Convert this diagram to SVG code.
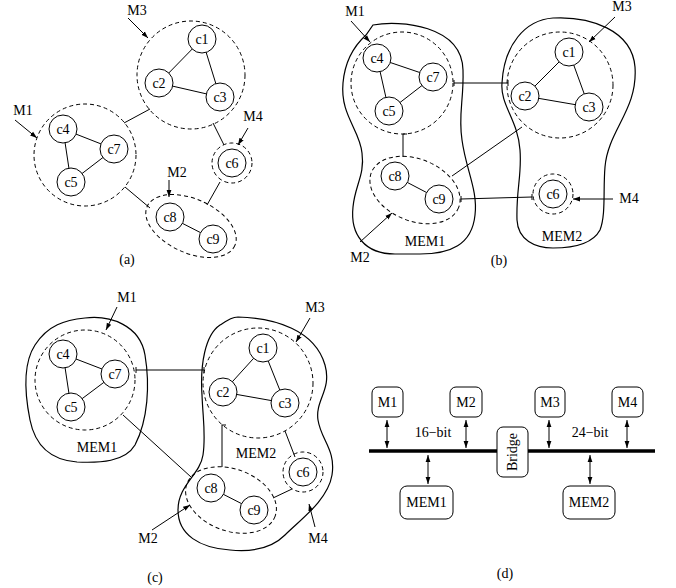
<svg xmlns="http://www.w3.org/2000/svg" width="676" height="588" viewBox="0 0 676 588">
<style>
text{font-family:"Liberation Serif","Times New Roman",serif;font-size:14px;fill:#000;text-anchor:middle}
.n{fill:#fff;stroke:#000;stroke-width:1}
.d{fill:none;stroke:#000;stroke-width:1;stroke-dasharray:4,3}
.e{stroke:#000;stroke-width:1;fill:none}
.a{stroke:#000;stroke-width:1;fill:none;marker-end:url(#ah)}
.b{stroke:#000;stroke-width:1;fill:none;marker-end:url(#ah);marker-start:url(#ah)}
.m{fill:none;stroke:#000;stroke-width:1.2}
.box{fill:#fff;stroke:#000;stroke-width:1}
</style>
<defs>
<marker id="ah" viewBox="0 0 10 10" refX="10" refY="5" markerWidth="7" markerHeight="6" orient="auto-start-reverse" markerUnits="userSpaceOnUse" preserveAspectRatio="none"><path d="M0,1 L10,5 L0,9 Z" fill="#000"/></marker>
</defs>
<rect width="676" height="588" fill="#fff"/>

<!-- Panel (a) -->
<g id="a-connectors">
<line class="e" x1="124" y1="123" x2="150" y2="109"/>
<line class="e" x1="213" y1="123" x2="224" y2="145"/>
<line class="e" x1="125" y1="187" x2="150" y2="208"/>
<line class="e" x1="220" y1="182" x2="207" y2="205"/>
<line class="e" x1="202" y1="39" x2="159" y2="83"/>
<line class="e" x1="202" y1="39" x2="220" y2="97"/>
<line class="e" x1="159" y1="83" x2="220" y2="97"/>
<line class="e" x1="63" y1="129" x2="114" y2="149"/>
<line class="e" x1="63" y1="129" x2="71" y2="182"/>
<line class="e" x1="71" y1="182" x2="114" y2="149"/>
<line class="e" x1="170" y1="217" x2="213" y2="239"/>
<line class="a" x1="128" y1="18" x2="148" y2="38"/>
<line class="a" x1="15" y1="120" x2="37" y2="138"/>
<line class="a" x1="248" y1="128" x2="238" y2="145"/>
<line class="a" x1="169" y1="180" x2="169" y2="197"/>
</g>
<g id="a-M3"><circle class="d" cx="191" cy="75" r="54"/><text x="137" y="15">M3</text></g>
<g id="a-M1"><circle class="d" cx="85" cy="155" r="51"/><text x="23" y="115">M1</text></g>
<g id="a-M4"><circle class="d" cx="232" cy="163" r="20"/><text x="253" y="121">M4</text></g>
<g id="a-M2"><ellipse class="d" cx="191" cy="226" rx="48" ry="27" transform="rotate(24 191 226)"/><text x="177" y="177">M2</text></g>
<g id="a-c1"><circle class="n" cx="202" cy="39" r="14"/><text x="202" y="44">c1</text></g>
<g id="a-c2"><circle class="n" cx="159" cy="83" r="14"/><text x="159" y="88">c2</text></g>
<g id="a-c3"><circle class="n" cx="220" cy="97" r="14"/><text x="220" y="102">c3</text></g>
<g id="a-c4"><circle class="n" cx="63" cy="129" r="14"/><text x="63" y="134">c4</text></g>
<g id="a-c7"><circle class="n" cx="114" cy="149" r="14"/><text x="114" y="154">c7</text></g>
<g id="a-c5"><circle class="n" cx="71" cy="182" r="14"/><text x="71" y="187">c5</text></g>
<g id="a-c6"><circle class="n" cx="232" cy="163" r="14"/><text x="232" y="168">c6</text></g>
<g id="a-c8"><circle class="n" cx="170" cy="217" r="14"/><text x="170" y="222">c8</text></g>
<g id="a-c9"><circle class="n" cx="213" cy="239" r="14"/><text x="213" y="244">c9</text></g>
<text x="127" y="264">(a)</text>

<!-- Panel (b) -->
<g id="b-MEM1"><path class="m" d="M373,25 C400,20 462,25 463,70 C464,100 458,115 462,140 C466,170 478,190 475,215 C472,245 450,254 420,254 L395,254 C365,254 350,235 353,207 C355,185 365,175 362,153 C360,130 340,115 343,83 C345,60 355,45 366,35 Z"/><text x="425" y="246">MEM1</text></g>
<g id="b-MEM2"><path class="m" d="M553,18 C590,16 632,30 635,67 C638,110 608,130 605,167 C603,190 606,215 600,230 C592,245 570,248 553,248 C535,248 518,240 517,220 C516,190 522,175 520,150 C518,120 500,105 502,83 C504,45 525,20 553,18 Z"/><text x="562" y="241">MEM2</text></g>
<g id="b-connectors">
<line class="e" x1="454" y1="83" x2="508" y2="83"/>
<line class="e" x1="454" y1="80" x2="454" y2="86"/>
<line class="e" x1="508" y1="80" x2="508" y2="86"/>
<line class="e" x1="403" y1="134" x2="403" y2="157"/>
<line class="e" x1="403" y1="134" x2="407" y2="134"/>
<line class="e" x1="452" y1="176" x2="522" y2="127"/>
<line class="e" x1="461" y1="199" x2="532" y2="197"/>
<line class="e" x1="461" y1="196" x2="461" y2="202"/>
<line class="e" x1="532" y1="194" x2="532" y2="200"/>
<line class="e" x1="569" y1="52" x2="525" y2="96"/>
<line class="e" x1="569" y1="52" x2="589" y2="107"/>
<line class="e" x1="525" y1="96" x2="589" y2="107"/>
<line class="e" x1="377" y1="58" x2="433" y2="77"/>
<line class="e" x1="377" y1="58" x2="389" y2="111"/>
<line class="e" x1="389" y1="111" x2="433" y2="77"/>
<line class="e" x1="395" y1="176" x2="439" y2="199"/>
<line class="a" x1="351" y1="21" x2="370" y2="42"/>
<line class="a" x1="615" y1="17" x2="589" y2="42"/>
<line class="a" x1="360" y1="242" x2="392" y2="213"/>
<line class="a" x1="613" y1="199" x2="573" y2="199"/>
</g>
<g id="b-M1"><circle class="d" cx="402" cy="83" r="51"/><text x="355" y="16">M1</text></g>
<g id="b-M3"><circle class="d" cx="560" cy="85" r="53"/><text x="622" y="11">M3</text></g>
<g id="b-M2"><ellipse class="d" cx="415" cy="190" rx="47" ry="31" transform="rotate(22 415 190)"/><text x="360" y="262">M2</text></g>
<g id="b-M4"><circle class="d" cx="553" cy="194" r="20"/><text x="629" y="203">M4</text></g>
<g id="b-c1"><circle class="n" cx="569" cy="52" r="14"/><text x="569" y="57">c1</text></g>
<g id="b-c2"><circle class="n" cx="525" cy="96" r="14"/><text x="525" y="101">c2</text></g>
<g id="b-c3"><circle class="n" cx="589" cy="107" r="14"/><text x="589" y="112">c3</text></g>
<g id="b-c4"><circle class="n" cx="377" cy="58" r="14"/><text x="377" y="63">c4</text></g>
<g id="b-c7"><circle class="n" cx="433" cy="77" r="14"/><text x="433" y="82">c7</text></g>
<g id="b-c5"><circle class="n" cx="389" cy="111" r="14"/><text x="389" y="116">c5</text></g>
<g id="b-c6"><circle class="n" cx="553" cy="194" r="14"/><text x="553" y="199">c6</text></g>
<g id="b-c8"><circle class="n" cx="395" cy="176" r="14"/><text x="395" y="181">c8</text></g>
<g id="b-c9"><circle class="n" cx="439" cy="199" r="14"/><text x="439" y="204">c9</text></g>
<text x="499" y="265">(b)</text>

<!-- Panel (c) -->
<g id="c-MEM1"><path class="m" d="M85,318 C110,315 140,325 145,355 C150,385 148,420 135,445 C125,462 100,463 77,462 C50,460 35,445 30,420 C25,395 22,365 35,345 C48,325 65,320 85,318 Z"/><text x="97" y="452">MEM1</text></g>
<g id="c-MEM2"><path class="m" d="M238,317 C275,318 315,330 325,365 C332,390 315,400 318,420 C321,440 336,450 332,475 C328,500 300,520 285,535 C270,550 250,552 230,550 C200,548 178,535 178,510 C178,485 200,475 203,455 C206,435 203,420 202,395 C200,365 205,335 220,325 C228,320 232,317 238,317 Z"/><text x="256" y="458">MEM2</text></g>
<g id="c-connectors">
<line class="e" x1="136" y1="370" x2="204" y2="370"/>
<line class="e" x1="136" y1="367" x2="136" y2="373"/>
<line class="e" x1="204" y1="367" x2="204" y2="373"/>
<line class="e" x1="123" y1="415" x2="191" y2="477"/>
<line class="e" x1="222" y1="425" x2="222" y2="467"/>
<line class="e" x1="222" y1="425" x2="226" y2="425"/>
<line class="e" x1="285" y1="431" x2="295" y2="457"/>
<line class="e" x1="273" y1="498" x2="292" y2="489"/>
<line class="e" x1="263" y1="348" x2="223" y2="392"/>
<line class="e" x1="263" y1="348" x2="285" y2="403"/>
<line class="e" x1="223" y1="392" x2="285" y2="403"/>
<line class="e" x1="63" y1="354" x2="115" y2="374"/>
<line class="e" x1="63" y1="354" x2="71" y2="407"/>
<line class="e" x1="71" y1="407" x2="115" y2="374"/>
<line class="e" x1="211" y1="488" x2="254" y2="510"/>
<line class="a" x1="117" y1="307" x2="106" y2="330"/>
<line class="a" x1="310" y1="318" x2="296" y2="342"/>
<line class="a" x1="152" y1="530" x2="190" y2="505"/>
<line class="a" x1="315" y1="527" x2="309" y2="504"/>
</g>
<g id="c-M1"><circle class="d" cx="85" cy="380" r="50"/><text x="127" y="302">M1</text></g>
<g id="c-M3"><circle class="d" cx="258" cy="383" r="55"/><text x="315" y="312">M3</text></g>
<g id="c-M2"><ellipse class="d" cx="231" cy="500" rx="47" ry="31" transform="rotate(20 231 500)"/><text x="148" y="543">M2</text></g>
<g id="c-M4"><circle class="d" cx="303" cy="472" r="20"/><text x="318" y="543">M4</text></g>
<g id="c-c1"><circle class="n" cx="263" cy="348" r="14"/><text x="263" y="353">c1</text></g>
<g id="c-c2"><circle class="n" cx="223" cy="392" r="14"/><text x="223" y="397">c2</text></g>
<g id="c-c3"><circle class="n" cx="285" cy="403" r="14"/><text x="285" y="408">c3</text></g>
<g id="c-c4"><circle class="n" cx="63" cy="354" r="14"/><text x="63" y="359">c4</text></g>
<g id="c-c7"><circle class="n" cx="115" cy="374" r="14"/><text x="115" y="379">c7</text></g>
<g id="c-c5"><circle class="n" cx="71" cy="407" r="14"/><text x="71" y="412">c5</text></g>
<g id="c-c6"><circle class="n" cx="303" cy="472" r="14"/><text x="303" y="477">c6</text></g>
<g id="c-c8"><circle class="n" cx="211" cy="488" r="14"/><text x="211" y="493">c8</text></g>
<g id="c-c9"><circle class="n" cx="254" cy="510" r="14"/><text x="254" y="515">c9</text></g>
<text x="155" y="582">(c)</text>

<!-- Panel (d) -->
<g id="d-connectors">
<line x1="369" y1="451" x2="655" y2="451" stroke="#000" stroke-width="3.5"/>
<line class="b" x1="387" y1="420" x2="387" y2="448"/>
<line class="b" x1="466" y1="420" x2="466" y2="448"/>
<line class="b" x1="549" y1="420" x2="549" y2="448"/>
<line class="b" x1="627" y1="420" x2="627" y2="448"/>
<line class="b" x1="428" y1="455" x2="428" y2="484"/>
<line class="b" x1="590" y1="455" x2="590" y2="484"/>
</g>
<g id="d-M1"><rect class="box" x="372" y="387" width="31" height="30" rx="6"/><text x="387.5" y="407">M1</text></g>
<g id="d-M2"><rect class="box" x="450" y="387" width="32" height="30" rx="6"/><text x="466" y="407">M2</text></g>
<g id="d-M3"><rect class="box" x="535" y="387" width="30" height="30" rx="6"/><text x="550" y="407">M3</text></g>
<g id="d-M4"><rect class="box" x="612" y="387" width="31" height="30" rx="6"/><text x="627.5" y="407">M4</text></g>
<g id="d-Bridge"><rect class="box" x="497" y="427" width="31" height="50" rx="6"/><text x="0" y="0" transform="translate(517 452) rotate(-90)">Bridge</text></g>
<g id="d-MEM1"><rect class="box" x="400" y="486" width="53" height="33" rx="7"/><text x="426.5" y="507">MEM1</text></g>
<g id="d-MEM2"><rect class="box" x="563" y="486" width="52" height="33" rx="7"/><text x="589" y="507">MEM2</text></g>
<text x="433" y="437">16−bit</text>
<text x="590" y="437">24−bit</text>
<text x="505" y="578">(d)</text>
</svg>
